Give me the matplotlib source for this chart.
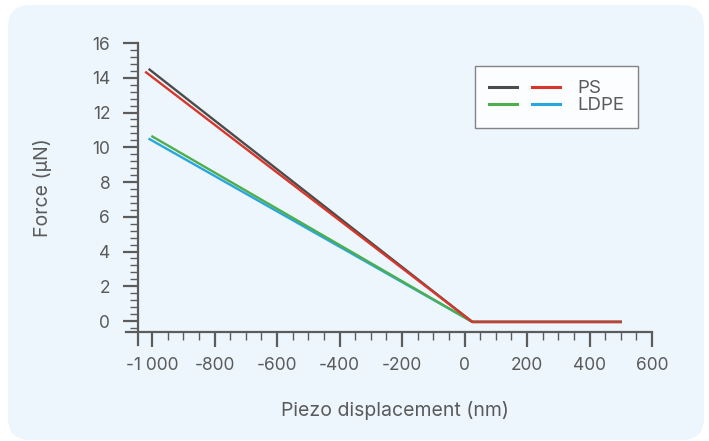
import matplotlib.pyplot as plt
from matplotlib.patches import FancyBboxPatch
from matplotlib.ticker import MultipleLocator, FuncFormatter

plt.rcParams['font.family'] = ['Inter', 'DejaVu Sans']

# piezo displacement (nm) and force (uN) for each curve
ps1_x = [-1008, 25, 500]
ps1_y = [14.47, -0.05, -0.05]
ps2_x = [-1019, 25, 500]
ps2_y = [14.31, -0.05, -0.05]
ldpe1_x = [-999, 25, 500]
ldpe1_y = [10.62, -0.05, -0.05]
ldpe2_x = [-1008, 25, 500]
ldpe2_y = [10.47, -0.05, -0.05]

xticks = [-1000, -800, -600, -400, -200, 0, 200, 400, 600]
yticks = [0, 2, 4, 6, 8, 10, 12, 14, 16]

txt = '#5a5a5a'
axc = '#5c5c5c'

fig = plt.figure(figsize=(7.09, 4.41), dpi=100)
fig.patch.set_facecolor('white')

# rounded light-blue card behind the chart (pixel coordinates)
bgax = fig.add_axes([0, 0, 1, 1], zorder=-1)
bgax.set_xlim(0, 709)
bgax.set_ylim(0, 441)
bgax.axis('off')
bgax.add_patch(FancyBboxPatch((8, 1), 696, 435,
                              boxstyle='round,pad=0,rounding_size=22',
                              facecolor='#edf6fd', edgecolor='none'))

ax = fig.add_axes([138 / 709, 1 - 332 / 441, 514 / 709, 289 / 441])
ax.set_facecolor('none')

ax.plot(ldpe2_x, ldpe2_y, color='#2aa6df', lw=1.7)
ax.plot(ldpe1_x, ldpe1_y, color='#4cae4c', lw=1.7)
ax.plot(ps1_x, ps1_y, color='#4b4b4b', lw=1.7)
ax.plot(ps2_x, ps2_y, color='#d7362a', lw=1.7)

ax.set_xlim(-1045, 600)
ax.set_ylim(-0.63, 16)

for s in ['top', 'right']:
    ax.spines[s].set_visible(False)
for s in ['left', 'bottom']:
    ax.spines[s].set_color(axc)
    ax.spines[s].set_linewidth(1.6)
ax.spines['bottom'].set_bounds(-1083, 600)
ax.spines['left'].set_bounds(-1.38, 16)

ax.set_xticks(xticks)
ax.set_yticks(yticks)
ax.xaxis.set_minor_locator(MultipleLocator(50))
ax.yaxis.set_minor_locator(MultipleLocator(0.4))
ax.xaxis.set_major_formatter(FuncFormatter(lambda v, p: f'{int(v):,}'.replace(',', ' ')))
ax.tick_params(which='major', length=11, width=1.6, color=axc, labelcolor=txt,
               labelsize=12.5)
ax.tick_params(which='minor', length=6, width=1.0, color=axc)
ax.tick_params(axis='x', which='major', pad=7)
ax.tick_params(axis='y', which='major', pad=9)

ax.set_xlabel('Piezo displacement (nm)', fontsize=14, color=txt, va='center')
ax.xaxis.set_label_coords(0.5, (332 - 411) / 289)
ax.set_ylabel('Force (µN)', fontsize=14, color=txt, va='center')
ax.yaxis.set_label_coords((42 - 138) / 514, 0.5)

h = ax.get_lines()
leg = ax.legend([h[2], h[1], h[3], h[0]], ['', '', 'PS', 'LDPE'], ncol=2,
                loc='upper left', bbox_to_anchor=(475 / 709, 1 - 66 / 441),
                bbox_transform=fig.transFigure, frameon=True, fancybox=False,
                fontsize=13.5, handlelength=1.5, handletextpad=0.9,
                columnspacing=-0.1, borderpad=0.75, borderaxespad=0,
                labelspacing=0.0, labelcolor=txt)
leg.get_frame().set_edgecolor('#666666')
leg.get_frame().set_linewidth(1.0)
leg.get_frame().set_facecolor('white')
for ln in leg.get_lines():
    ln.set_linewidth(2.2)

fig.savefig('out.png', dpi=100)
